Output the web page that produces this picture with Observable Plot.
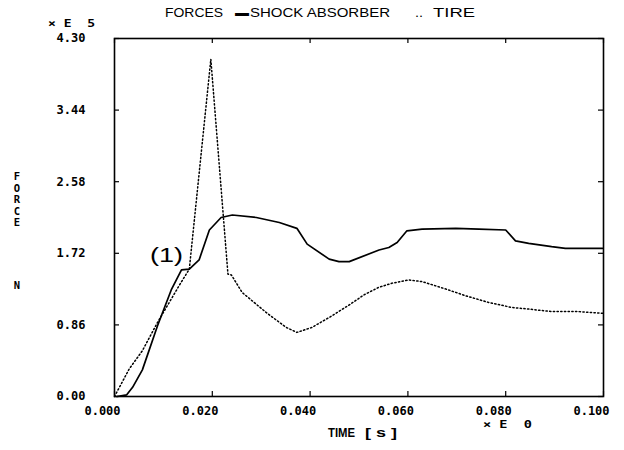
<!DOCTYPE html>
<html><head><meta charset="utf-8">
<script src="https://cdn.jsdelivr.net/npm/d3@7"></script>
<script src="https://cdn.jsdelivr.net/npm/@observablehq/plot@0.6"></script>
<style>body{margin:0;background:#fff}</style>
</head><body><div id="chart"></div>
<script>
const shockT = [0.0005,0.0025,0.0037,0.0057,0.0088,0.0116,0.0137,0.0153,0.0173,0.0194,0.0218,0.0241,0.029,0.0337,0.0373,0.0394,0.0439,0.0459,0.048,0.0541,0.0561,0.0578,0.0598,0.0629,0.0698,0.0745,0.080,0.082,0.0847,0.0894,0.0922,0.0998];
const shockF = [0,0.02,0.11,0.32,0.85,1.28,1.52,1.53,1.64,2.00,2.15,2.18,2.15,2.09,2.02,1.83,1.65,1.62,1.62,1.76,1.79,1.85,1.99,2.01,2.02,2.01,2.00,1.87,1.84,1.80,1.78,1.78];
const tireT = [0,0.003,0.0057,0.0088,0.0106,0.0133,0.0153,0.0197,0.0232,0.0239,0.0261,0.031,0.0351,0.0373,0.0404,0.0445,0.048,0.051,0.054,0.0567,0.0602,0.0629,0.0678,0.0718,0.0765,0.0812,0.0847,0.0894,0.0949,0.0998];
const tireF = [0,0.33,0.55,0.89,1.07,1.34,1.53,4.05,1.47,1.46,1.25,1.01,0.83,0.77,0.83,0.97,1.10,1.22,1.31,1.36,1.40,1.38,1.29,1.21,1.13,1.07,1.05,1.02,1.02,1.00];
const xTicks = [0,0.02,0.04,0.06,0.08,0.1];
const yTicks = [0,0.86,1.72,2.58,3.44,4.30];
const yLetters = ["F","O","R","C","E","N"];

const shock = shockT.map((t,i)=>({t, f: shockF[i]}));
const tire = tireT.map((t,i)=>({t, f: tireF[i]}));

const mono = "'DejaVu Sans Mono', monospace";
const sans = "'Liberation Sans', Arial, sans-serif";
const W = 624, H = 450, mL = 114, mR = 21, mT = 38, mB = 54;
const fw = W - mL - mR, fh = H - mT - mB;
const plot = Plot.plot({
  width: W, height: H,
  marginLeft: mL, marginRight: mR, marginTop: mT, marginBottom: mB,
  style: {background: "#fff", color: "#000", fontFamily: mono, fontSize: "12px", fontWeight: "bold"},
  x: {domain: [0, 0.1], label: null},
  y: {domain: [0, 4.30], label: null},
  marks: [
    Plot.axisX({ticks: xTicks, tickFormat: d3.format(".3f"), tickSize: 0, tickPadding: 10, dx: -12, label: null}),
    Plot.axisY({ticks: yTicks, tickFormat: d3.format(".2f"), tickSize: 0, tickPadding: 29, label: null}),
    Plot.ruleX(xTicks, {x: d => d, insetTop: fh - 5, stroke: "#000", strokeWidth: 1.2}),
    Plot.ruleX(xTicks, {x: d => d, insetBottom: fh - 5, stroke: "#000", strokeWidth: 1.2}),
    Plot.ruleY(yTicks, {y: d => d, insetRight: fw - 5, stroke: "#000", strokeWidth: 1.2}),
    Plot.ruleY(yTicks, {y: d => d, insetLeft: fw - 5, stroke: "#000", strokeWidth: 1.2}),
    Plot.frame({stroke: "#000", strokeWidth: 1.6}),
    Plot.line(tire, {x: "t", y: "f", stroke: "#000", strokeWidth: 1.5, strokeDasharray: "1.3,2.4"}),
    Plot.line(shock, {x: "t", y: "f", stroke: "#000", strokeWidth: 1.7})
  ]
});
document.getElementById("chart").append(plot);
const svg = d3.select(plot);
function txt(x, y, s, font, size, weight, len) {
  const t = svg.append("text").attr("x", x).attr("y", y).attr("font-family", font)
    .attr("font-size", size).attr("font-weight", weight).attr("fill", "#000")
    .attr("text-anchor", "start")
    .attr("xml:space", "preserve").text(s);
  if (len) t.attr("textLength", len).attr("lengthAdjust", "spacingAndGlyphs");
  return t;
}
// title
txt(165, 17, "FORCES", sans, 13, "normal", 58);
txt(235, 16, "\u25AC", sans, 10, "normal", 14);
txt(250, 17, "SHOCK ABSORBER", sans, 13, "normal", 140);
txt(415, 17, "..", sans, 13, "normal", 8);
txt(433, 17, "TIRE", sans, 13, "normal", 42);
// exponent labels
txt(48, 27, "\u00D7 E  5", mono, 11, "bold", 47);
txt(483, 428, "\u00D7 E  0", mono, 11, "bold", 49);
// axis title
txt(328, 437, "TIME", sans, 12.5, "bold", 27);
txt(365, 437, "[ s ]", sans, 12.5, "bold", 32);
// annotation
txt(150, 262, "(1)", sans, 20, "normal", 33);
// vertical y label
const ys = [180, 191.5, 203, 214.5, 226, 289];
yLetters.forEach((c, i) => {
  txt(17, ys[i], c, mono, 10.5, "bold").attr("text-anchor", "middle");
});
</script>
</body></html>
